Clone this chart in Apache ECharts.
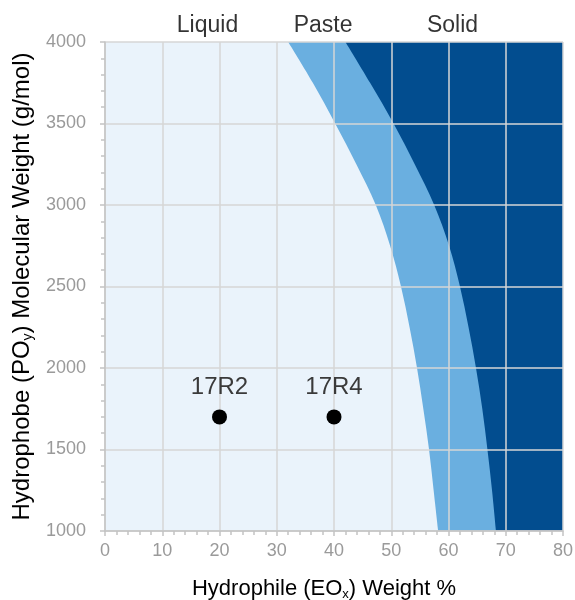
<!DOCTYPE html>
<html>
<head>
<meta charset="utf-8">
<script src="https://cdn.jsdelivr.net/npm/echarts@6/dist/echarts.min.js"></script>
<style>
    html, body { margin: 0; padding: 0; background: #fff; }
    #chart-box { width: 575px; height: 600px; }
</style>
</head>
<body>
<div id="chart-box"></div>
<script>
    // molecular weight levels where the phase edges were read
    const yLevels = [4000, 3750, 3500, 3250, 3000, 2750, 2500, 2250, 2000, 1750, 1500, 1250, 1000];
    // EO weight % at the liquid / paste edge
    const pasteEdge = [32, 36.3, 40.2, 43.9, 47.3, 49.8, 51.7, 53.2, 54.5, 55.6, 56.6, 57.4, 58.2];
    // EO weight % at the paste / solid edge
    const solidEdge = [42, 46.3, 50.4, 54.1, 57.5, 60.1, 62.0, 63.5, 64.8, 65.9, 66.8, 67.6, 68.3];

    const productNames = ['17R2', '17R4'];
    const productEO = [20, 40];
    const productMW = [1700, 1700];

    const phaseNames = ['Liquid', 'Paste', 'Solid'];
    const phaseLabelX = [17.9, 38.1, 60.7];

    const xMin = 0, xMax = 80, yMin = 1000, yMax = 4000;

    const font = 'Liberation Sans, Arial, sans-serif';

    // smooth edge through the read points (catmull-rom as cubic beziers), closed on the right side
    function regionItem(edge) {
        return function (params, api) {
            let p = yLevels.map(function (y, i) {
                return api.coord([edge[i], y]);
            });
            let d = 'M' + p[0][0] + ' ' + p[0][1];
            for (let i = 0; i < p.length - 1; i++) {
                let p0 = p[Math.max(i - 1, 0)], p1 = p[i], p2 = p[i + 1], p3 = p[Math.min(i + 2, p.length - 1)];
                let c1x = p1[0] + (p2[0] - p0[0]) / 6, c1y = p1[1] + (p2[1] - p0[1]) / 6;
                let c2x = p2[0] - (p3[0] - p1[0]) / 6, c2y = p2[1] - (p3[1] - p1[1]) / 6;
                d += ' C' + c1x + ' ' + c1y + ' ' + c2x + ' ' + c2y + ' ' + p2[0] + ' ' + p2[1];
            }
            let br = api.coord([xMax, yMin]);
            let tr = api.coord([xMax, yMax]);
            d += ' L' + br[0] + ' ' + br[1] + ' L' + tr[0] + ' ' + tr[1] + ' Z';
            return {
                type: 'path',
                shape: {pathData: d},
                style: {fill: api.visual('color')}
            };
        };
    }

    function nameRich(size) {
        return {
            t: {fontSize: size, color: '#000', fontFamily: font},
            s: {fontSize: Math.round(size * 0.6), color: '#000', fontFamily: font, padding: [Math.round(size / 2), 0, 0, 0]}
        };
    }

    let option = {
        animation: false,
        textStyle: {fontFamily: font},
        grid: {
            left: 105, right: 12, top: 42, bottom: 69,
            outerBoundsMode: 'none',
            show: true,
            backgroundColor: '#eaf3fb',
            borderWidth: 0
        },
        xAxis: {
            type: 'value',
            min: xMin, max: xMax, interval: 10,
            z: 3,
            name: '{t|Hydrophile (EO}{s|x}{t|) Weight %}',
            nameLocation: 'middle',
            nameGap: 46,
            nameTextStyle: {rich: nameRich(22), padding: [0, 20, 0, 0]},
            axisLine: {show: true, lineStyle: {color: '#c4c4c4', width: 1.5}},
            axisTick: {show: true, length: 5, lineStyle: {color: '#c4c4c4', width: 1.5}},
            minorTick: {show: true, splitNumber: 5, length: 4, lineStyle: {color: '#c4c4c4', width: 1.5}},
            axisLabel: {color: '#9a9a9a', fontSize: 18, margin: 11},
            splitLine: {show: true, lineStyle: {color: '#d6d6d6', width: 1.5}}
        },
        yAxis: {
            type: 'value',
            min: yMin, max: yMax, interval: 500,
            z: 3,
            name: '{t|Hydrophobe (PO}{s|y}{t|) Molecular Weight (g/mol)}',
            nameLocation: 'middle',
            nameGap: 70,
            nameTextStyle: {rich: nameRich(24)},
            axisLine: {show: true, lineStyle: {color: '#c4c4c4', width: 1.5}},
            axisTick: {show: true, length: 5, lineStyle: {color: '#c4c4c4', width: 1.5}},
            minorTick: {show: true, splitNumber: 5, length: 4, lineStyle: {color: '#c4c4c4', width: 1.5}},
            axisLabel: {
                color: '#9a9a9a', fontSize: 18, margin: 19,
                formatter: function (v) { return String(v); }
            },
            splitLine: {show: true, lineStyle: {color: '#d6d6d6', width: 1.5}}
        },
        series: [
            {
                name: 'Paste',
                type: 'custom',
                z: 1,
                silent: true,
                itemStyle: {color: '#6aafe0'},
                renderItem: regionItem(pasteEdge),
                data: [[xMax, yMax]]
            },
            {
                name: 'Solid',
                type: 'custom',
                z: 1,
                silent: true,
                itemStyle: {color: '#024d8f'},
                renderItem: regionItem(solidEdge),
                data: [[xMax, yMax]]
            },
            {
                name: 'phases',
                type: 'scatter',
                z: 10,
                symbolSize: 0,
                silent: true,
                label: {
                    show: true,
                    position: 'top',
                    distance: 5,
                    color: '#000',
                    fontSize: 23,
                    formatter: function (p) { return phaseNames[p.dataIndex]; }
                },
                data: phaseLabelX.map(function (x) { return [x, yMax]; })
            },
            {
                name: 'products',
                type: 'scatter',
                z: 10,
                symbolSize: 15,
                silent: true,
                itemStyle: {color: '#000', opacity: 1},
                label: {
                    show: true,
                    position: 'top',
                    distance: 10,
                    color: '#3a3a3a',
                    fontSize: 24,
                    formatter: function (p) { return productNames[p.dataIndex]; }
                },
                data: productEO.map(function (x, i) { return [x, productMW[i]]; })
            }
        ]
    };

    let chart = echarts.init(document.getElementById('chart-box'));
    chart.setOption(option);
    window.addEventListener('resize', function () {
        chart.resize();
    });
</script>
</body>
</html>
